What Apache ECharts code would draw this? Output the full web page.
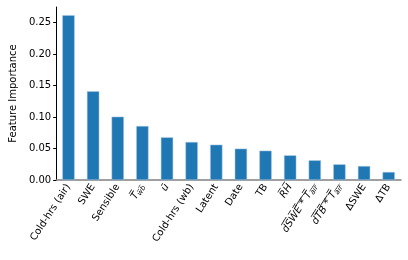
<!DOCTYPE html>
<html><head><meta charset="utf-8">
<script src="https://cdn.jsdelivr.net/npm/echarts@6/dist/echarts.min.js"></script>
<style>html,body{margin:0;padding:0;background:#fff}#c{width:408px;height:260px}</style>
</head><body><div id="c"></div>
<script>
const categories = ["Cold-hrs (air)","SWE","Sensible","Twb_bar","u_bar","Cold-hrs (wb)","Latent","Date","TB","RH_bar","dSWE_Tair","dTB_Tair","ΔSWE","ΔTB"];
const values = [0.262,0.141,0.1006,0.0858,0.0678,0.0604,0.0561,0.0498,0.0466,0.0392,0.0313,0.0249,0.0222,0.0127];
const yTicks = [0,0.05,0.10,0.15,0.20,0.25];
const yTickLabels = ["0.00","0.05","0.10","0.15","0.20","0.25"];

const OL = "\u0305";
function ol(s){return s.split('').map(c=>c+OL).join('');}
const labelMap = {
  "Twb_bar": "{it|"+ol("T")+"}{sub|"+ol("wb")+"}",
  "u_bar": "{it|ū}",
  "RH_bar": "{it|"+ol("RH")+"}",
  "dSWE_Tair": "{it|"+ol("dSWE * T")+"}{sub|"+ol("air")+"}",
  "dTB_Tair": "{it|"+ol("dTB * T")+"}{sub|"+ol("air")+"}"
};
const font = "DejaVu Sans";
const chart = echarts.init(document.getElementById('c'), null, {renderer:'canvas'});
chart.setOption({
  animation:false,
  grid:{left:52,right:7,top:7,bottom:80,containLabel:false},
  xAxis:{
    type:'category', data:categories,
    axisLine:{lineStyle:{color:'#808080',width:1.5}},
    axisTick:{alignWithLabel:true,length:3,lineStyle:{color:'#000'}},
    axisLabel:{
      rotate:57, interval:0, margin:5, color:'#000', fontFamily:font, fontSize:10,
      formatter:v=>labelMap[v]||v,
      rich:{
        it:{fontStyle:'italic',fontFamily:font,fontSize:10,color:'#000'},
        sub:{fontStyle:'italic',fontFamily:font,fontSize:7,color:'#000',padding:[5,0,0,0]}
      }
    }
  },
  yAxis:{
    type:'value', min:0, max:0.275,
    name:'Feature Importance', nameLocation:'middle', nameGap:38, nameRotate:90,
    nameTextStyle:{fontFamily:font,fontSize:10,color:'#000'},
    axisLine:{show:true,lineStyle:{color:'#000',width:1}},
    axisTick:{show:true,length:3,lineStyle:{color:'#000'},customValues:yTicks},
    axisLabel:{fontFamily:font,fontSize:10,color:'#000',margin:5,customValues:yTicks,
      formatter:v=>{const i=yTicks.findIndex(t=>Math.abs(t-v)<1e-9);return i>=0?yTickLabels[i]:'';}},
    splitLine:{show:false}
  },
  series:[{
    type:'bar', data:values, barWidth:'50%',
    itemStyle:{color:'#1f77b4',borderColor:'#a9cbe6',borderWidth:0.5}
  }]
});
</script></body></html>
